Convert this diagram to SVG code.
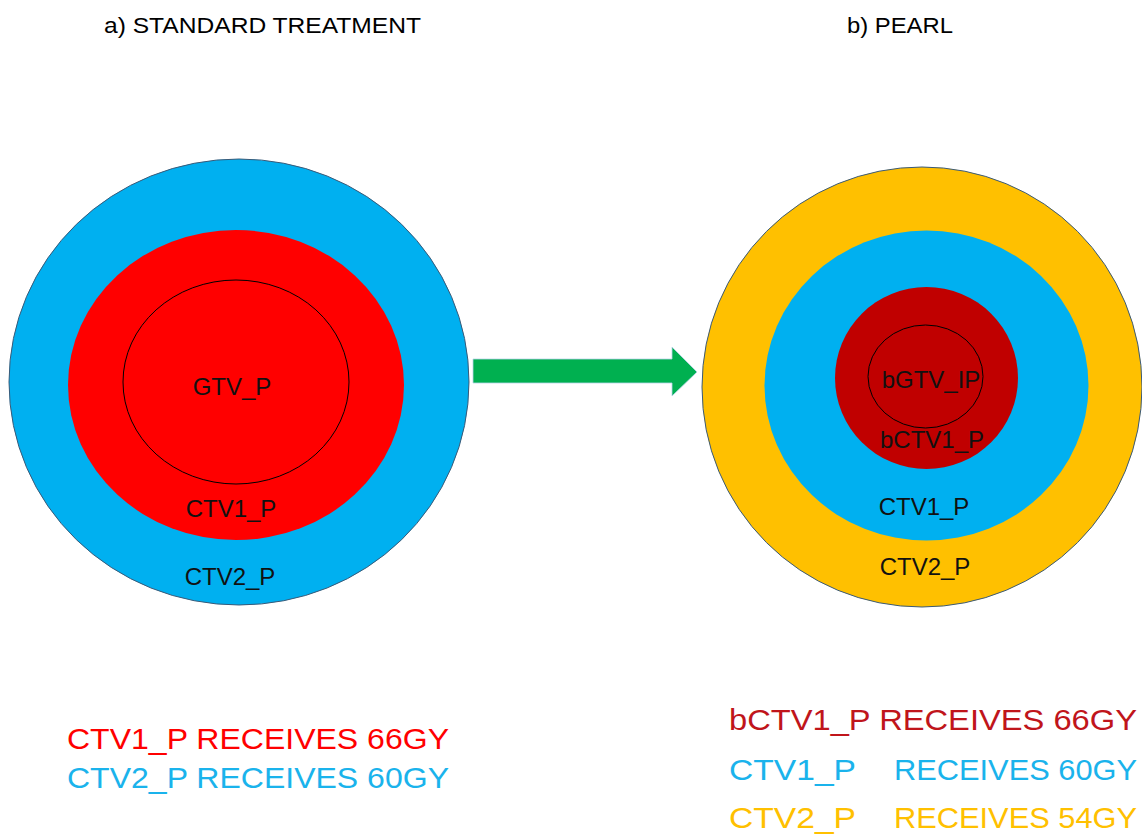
<svg xmlns="http://www.w3.org/2000/svg" width="1142" height="840" viewBox="0 0 1142 840">
<style>
text{font-family:"Liberation Sans",Arial,sans-serif}
.title{font-size:22px;fill:#000}
.lbl{font-size:24px;fill:#111;text-anchor:middle}
.leg{font-size:29px}
.outer{stroke:#3a5a78;stroke-width:1}
.core{fill:none;stroke:#000;stroke-width:1}
</style>
<rect width="1142" height="840" fill="#fff"/>
<text class="title" x="104" y="33" textLength="317" lengthAdjust="spacingAndGlyphs">a) STANDARD TREATMENT</text>
<text class="title" x="847" y="33" textLength="106" lengthAdjust="spacingAndGlyphs">b) PEARL</text>

<g id="standard">
  <ellipse class="outer" cx="239" cy="382" rx="230" ry="223" fill="#00B0F0"/>
  <ellipse cx="236" cy="385" rx="168" ry="155" fill="#FF0000"/>
  <ellipse class="core" cx="236" cy="382" rx="113" ry="102"/>
  <text class="lbl" x="232" y="395">GTV_P</text>
  <text class="lbl" x="231" y="517">CTV1_P</text>
  <text class="lbl" x="230" y="585">CTV2_P</text>
</g>

<g id="pearl">
  <ellipse class="outer" cx="922" cy="387" rx="220" ry="220" fill="#FFC000"/>
  <ellipse cx="926.5" cy="385.5" rx="162" ry="155" fill="#00B0F0"/>
  <ellipse cx="926.5" cy="378" rx="91.5" ry="91" fill="#C00000"/>
  <ellipse class="core" cx="925.5" cy="376.5" rx="57.5" ry="51.5"/>
  <text class="lbl" x="931" y="388">bGTV_IP</text>
  <text class="lbl" x="932" y="448">bCTV1_P</text>
  <text class="lbl" x="924" y="515">CTV1_P</text>
  <text class="lbl" x="925" y="575">CTV2_P</text>
</g>

<g id="connectors">
  <path d="M473,359 H672 V347 L697,372 L672,396 V383 H473 Z" fill="#00B050" stroke="#b7d3e8" stroke-width="0.8"/>
</g>

<g id="legend-standard">
  <text class="leg" x="67" y="749" fill="#FF0000" textLength="382" lengthAdjust="spacingAndGlyphs">CTV1_P RECEIVES 66GY</text>
  <text class="leg" x="67" y="788" fill="#1AB3EC" textLength="382" lengthAdjust="spacingAndGlyphs">CTV2_P RECEIVES 60GY</text>
</g>

<g id="legend-pearl">
  <text class="leg" x="729" y="730" fill="#C0151B" textLength="408" lengthAdjust="spacingAndGlyphs">bCTV1_P RECEIVES 66GY</text>
  <text class="leg" x="729" y="780" fill="#1AB3EC" textLength="127" lengthAdjust="spacingAndGlyphs">CTV1_P</text>
  <text class="leg" x="894" y="780" fill="#1AB3EC" textLength="243" lengthAdjust="spacingAndGlyphs">RECEIVES 60GY</text>
  <text class="leg" x="729" y="828" fill="#FFC000" textLength="127" lengthAdjust="spacingAndGlyphs">CTV2_P</text>
  <text class="leg" x="894" y="828" fill="#FFC000" textLength="243" lengthAdjust="spacingAndGlyphs">RECEIVES 54GY</text>
</g>
</svg>
